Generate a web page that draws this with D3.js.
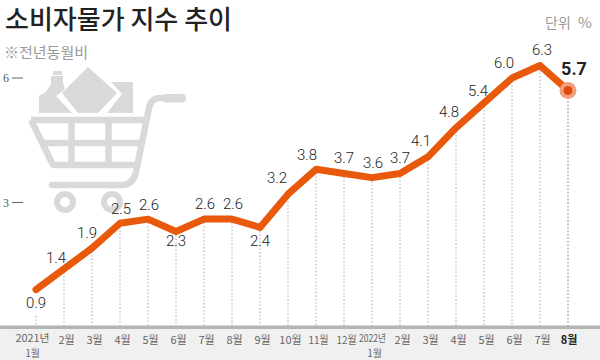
<!DOCTYPE html>
<html><head><meta charset="utf-8"><script src="https://cdn.jsdelivr.net/npm/d3@7"></script>
<style>html,body{margin:0;padding:0;background:#fff}svg{display:block}text{font-family:"Noto Sans CJK KR","Noto Sans",sans-serif}</style></head>
<body><svg id="c" width="600" height="360"></svg>
<script>
const categories=["2021년|1월","2월","3월","4월","5월","6월","7월","8월","9월","10월","11월","12월","2022년|1월","2월","3월","4월","5월","6월","7월","8월"];
const values=[0.9,1.4,1.9,2.5,2.6,2.3,2.6,2.6,2.4,3.2,3.8,3.7,3.6,3.7,4.1,4.8,5.4,6.0,6.3,5.7];
const labelDx=[0,-8,-5,1,1,0,1,1,0,-11,-9,0,1,0,-7,-7,-6,-8,2,6];
const labelDy=[18,-6,-10,-9,-9,14,-10,-10,19,-11,-9,-10,-10,-10,-11,-11,-7,-10,-11,-15];
const yTicks=[3,6];
const svg=d3.select("#c");
const x=d3.scalePoint().domain(d3.range(categories.length)).range([36,568]);
const y=d3.scaleLinear().domain([0,6]).range([327,78]);
const grey="#d9d9d9";
svg.append("rect").attr("x",0).attr("y",329).attr("width",600).attr("height",31).attr("fill","#f0f0f0");
// cart icon
const g=svg.append("g");
g.append("path").attr("fill",grey).attr("d","M53 71h9v4h-9z M51 76h12v7l2 6-9 7 16 17H39V96l7-4 5-8z");
g.append("path").attr("fill",grey).attr("d","M88 67L117 93 98 113H78L62 93Z");
g.append("path").attr("fill",grey).attr("d","M111 82h22v31h-26l15-19z");
g.append("path").attr("fill","none").attr("stroke",grey).attr("stroke-width",6.5).attr("stroke-linejoin","round")
 .attr("d","M31 120H147 M31 120L53 165H138 M42 143H141 M71.5 120V165 M108.5 120V165");
g.append("path").attr("fill","none").attr("stroke",grey).attr("stroke-width",6.5).attr("stroke-linecap","round")
 .attr("d","M160 98Q151 98 149 108L136 172Q133 185 122 185H52");
g.append("rect").attr("fill",grey).attr("x",162).attr("y",94).attr("width",24).attr("height",8.5).attr("rx",4);
[65,112].forEach(cx=>g.append("circle").attr("cx",cx).attr("cy",202).attr("r",8).attr("fill","#fff").attr("stroke",grey).attr("stroke-width",6));
// drop lines
svg.append("g").selectAll("line").data(values).join("line")
 .attr("x1",(d,i)=>x(i)).attr("x2",(d,i)=>x(i))
 .attr("y1",(d,i)=>i===0?316:y(d)).attr("y2",326)
 .attr("stroke",(d,i)=>i===19?"#777":"#aaa").attr("stroke-dasharray","1.5 2");
svg.append("rect").attr("x",0).attr("y",325.5).attr("width",600).attr("height",3.5).attr("fill","#b4b4b4");
// y ticks
const ya=svg.append("g").selectAll("g").data(yTicks).join("g");
ya.append("text").attr("x",3).attr("y",d=>y(d)+4).attr("font-size",12).attr("fill","#555").style("font-family","Liberation Serif").text(d=>d);
ya.append("line").attr("x1",12).attr("x2",23).attr("y1",d=>y(d)).attr("y2",d=>y(d)).attr("stroke","#666");
// line
const line=d3.line().x((d,i)=>x(i)).y(d=>y(d));
svg.append("path").attr("d",line(values)).attr("fill","none").attr("stroke","#e8590c").attr("stroke-width",7).attr("stroke-linecap","round").attr("stroke-linejoin","round");
svg.append("circle").attr("cx",x(19)).attr("cy",y(5.7)).attr("r",8.5).attr("fill","#f0a080");
svg.append("circle").attr("cx",x(19)).attr("cy",y(5.7)).attr("r",4.5).attr("fill","#e04a08");
// value labels
svg.append("g").selectAll("text").data(values).join("text")
 .attr("x",(d,i)=>x(i)+labelDx[i])
 .attr("y",(d,i)=>y(d)+labelDy[i])
 .attr("text-anchor","middle").attr("font-size",(d,i)=>i===19?18:15)
 .attr("font-weight",(d,i)=>i===19?700:300)
 .attr("fill","#222").style("font-family",'Roboto,"Noto Sans",sans-serif').text(d=>d.toFixed(1));
// x labels: one text per line, condensed so that neighbours stay apart
categories.forEach((c,i)=>{
 const parts=c.split("|");
 const two=parts.length>1;
 parts.forEach((p,k)=>{
  const t=svg.append("text").attr("text-anchor","middle").attr("font-size",two?10:11).attr("font-weight",i===19?700:400)
   .attr("fill",i===19?"#222":"#666")
   .attr("x",x(i)+(i===19?1:2.5)-(i===0?6:0)-(i===12&&k===0?2:0)).attr("y",k?357:(two?342.4:344)).text(p);
  if(i===0&&k===0) t.attr("textLength",34).attr("lengthAdjust","spacingAndGlyphs");
  if(i===12&&k===0) t.attr("textLength",27).attr("lengthAdjust","spacingAndGlyphs");
  if(i===10||i===11) t.attr("textLength",20).attr("lengthAdjust","spacingAndGlyphs");
 });
});
// titles
svg.append("text").attr("x",5).attr("y",29).attr("font-size",26).attr("font-weight",500).attr("fill","#222").text("소비자물가 지수 추이");
svg.append("text").attr("x",4).attr("y",58).attr("font-size",15).attr("fill","#999").text("※전년동월비");
svg.append("text").attr("x",545).attr("y",28).attr("font-size",14).attr("fill","#999").text("단위");
svg.append("text").attr("x",578).attr("y",28).attr("font-size",15).attr("fill","#999").text("%");
</script></body></html>
